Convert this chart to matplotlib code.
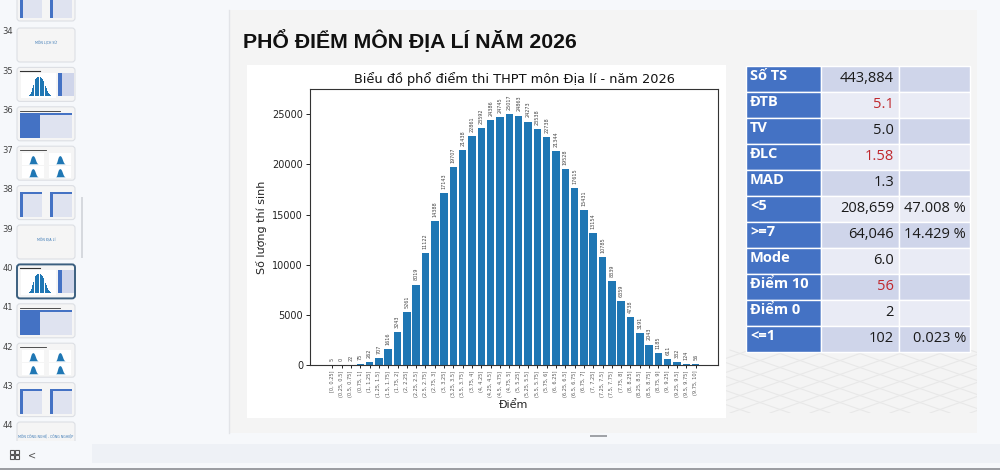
import matplotlib
matplotlib.use('Agg')
import matplotlib.pyplot as plt
from matplotlib.patches import Rectangle, FancyBboxPatch
from matplotlib import font_manager as fm
import numpy as np

# ---------------- data ----------------
bin_labels = ['[0, 0.25]', '(0.25, 0.5]', '(0.5, 0.75]', '(0.75, 1]', '(1, 1.25]',
              '(1.25, 1.5]', '(1.5, 1.75]', '(1.75, 2]', '(2, 2.25]', '(2.25, 2.5]',
              '(2.5, 2.75]', '(2.75, 3]', '(3, 3.25]', '(3.25, 3.5]', '(3.5, 3.75]',
              '(3.75, 4]', '(4, 4.25]', '(4.25, 4.5]', '(4.5, 4.75]', '(4.75, 5]',
              '(5, 5.25]', '(5.25, 5.5]', '(5.5, 5.75]', '(5.75, 6]', '(6, 6.25]',
              '(6.25, 6.5]', '(6.5, 6.75]', '(6.75, 7]', '(7, 7.25]', '(7.25, 7.5]',
              '(7.5, 7.75]', '(7.75, 8]', '(8, 8.25]', '(8.25, 8.5]', '(8.5, 8.75]',
              '(8.75, 9]', '(9, 9.25]', '(9.25, 9.5]', '(9.5, 9.75]', '(9.75, 10]']
counts = [5, 0, 22, 75, 262, 707, 1616, 3243, 5261, 8019,
          11122, 14388, 17143, 19707, 21438, 22861, 23592, 24386, 24745, 25017,
          24863, 24273, 23538, 22738, 21344, 19528, 17615, 15431, 13154, 10785,
          8339, 6359, 4738, 3191, 2043, 1185, 611, 332, 124, 56]

chart_title = 'Biểu đồ phổ điểm thi THPT môn Địa lí - năm 2026'
slide_title = 'PHỔ ĐIỂM MÔN ĐỊA LÍ NĂM 2026'

stat_labels = ['Số TS', 'ĐTB', 'TV', 'ĐLC', 'MAD', '<5', '>=7', 'Mode', 'Điểm 10', 'Điểm 0', '<=1']
stat_values = ['443,884', '5.1', '5.0', '1.58', '1.3', '208,659', '64,046', '6.0', '56', '2', '102']
stat_pcts = ['', '', '', '', '', '47.008 %', '14.429 %', '', '', '', '0.023 %']
stat_red = [False, True, False, True, False, False, False, False, True, False, False]

slide_numbers = [34, 35, 36, 37, 38, 39, 40, 41, 42, 43, 44]
slide_kinds = ['text', 'chart', 'table', 'quad', 'tables', 'text', 'chart', 'table', 'quad', 'tables', 'text']
slide_texts = {34: 'MÔN LỊCH SỬ', 39: 'MÔN ĐỊA LÍ', 44: 'MÔN CÔNG NGHỆ - CÔNG NGHIỆP'}

# pick a narrow font for the slide title if available
installed = {f.name for f in fm.fontManager.ttflist}
title_family, title_size = 'Liberation Sans', 15.3
for cand, sz in [('Liberation Sans Narrow', 17), ('DejaVu Sans Condensed', 15.5)]:
    if cand in installed:
        title_family, title_size = cand, sz
        break

# ---------------- figure ----------------
W, H = 1000, 470
fig = plt.figure(figsize=(10, 4.7), dpi=100)
fig.patch.set_facecolor('#f6f8fb')
bg = fig.add_axes([0, 0, 1, 1])
bg.set_xlim(0, W)
bg.set_ylim(H, 0)
bg.axis('off')

def rect(x0, y0, x1, y1, fc, ec='none', lw=0, z=1):
    bg.add_patch(Rectangle((x0, y0), x1 - x0, y1 - y0, facecolor=fc, edgecolor=ec, linewidth=lw, zorder=z))

def fax(x0, y0, x1, y1):
    return [x0 / W, 1 - y1 / H, (x1 - x0) / W, (y1 - y0) / H]

# slide area
rect(229, 10, 977, 433, '#f4f4f4', z=1)
bg.plot([229, 229], [10, 433], color='#e2e4e8', lw=1, zorder=2)
# decorative lattice
for k in range(-6, 8):
    x0 = 730 + k * 40
    bg.plot([x0, x0 + 180], [350, 413], color='#e8e8e8', lw=0.8, zorder=1.5)
    bg.plot([x0 + 180, x0], [350, 413], color='#e8e8e8', lw=0.8, zorder=1.5)
rect(977, 10, 1000, 440, '#f6f8fb', z=1.6)
rect(229, 413, 977, 433, '#f4f4f4', z=1.55)
rect(229, 340, 700, 433, '#f4f4f4', z=1.55)

# title
bg.text(243, 40, slide_title, fontsize=title_size, fontweight='bold', family=[title_family, 'DejaVu Sans'],
        color='#111111', va='center', ha='left', zorder=3)

# white chart box
rect(247, 65, 726, 418, 'white', z=2)

# bottom strip
rect(92, 444, 1000, 463, '#eef1f6', z=1)
rect(590, 435, 607, 437, '#a0a3a8', z=2)
# scrollbar
rect(80.5, 197, 83, 258, '#d6d9de', z=2)

# ---------------- thumbnails ----------------
def thumb(num, kind, y0):
    x0, x1, y1 = 17, 75, y0 + 34
    sel = num == 40
    bg.add_patch(FancyBboxPatch((x0, y0), x1 - x0, y1 - y0, boxstyle='round,pad=0,rounding_size=3',
                                facecolor='#f5f5f5', edgecolor='#3b5f7f' if sel else '#dcdfe4',
                                linewidth=1.4 if sel else 0.8, zorder=2))
    bg.text(8, y0 + 4, str(num), fontsize=6, color='#444444', ha='center', va='center', zorder=3)
    if kind == 'text':
        bg.text((x0 + x1) / 2, y0 + 15, slide_texts[num], fontsize=2.3, color='#3a78b5',
                ha='center', va='center', zorder=3)
    elif kind == 'chart':
        bg.plot([20, 40], [y0 + 4, y0 + 4], color='#333333', lw=0.8, zorder=3)
        rect(21, y0 + 6, 56, y0 + 31, 'white', z=2.5)
        a = fig.add_axes(fax(24, y0 + 8, 55, y0 + 29))
        a.bar(range(len(counts)), counts, width=0.85, color='#1f77b4')
        a.axis('off')
        a.set_xlim(-2, len(counts) + 1)
        rect(58, y0 + 6, 74, y0 + 29, '#cfd5ea', z=2.5)
        rect(58, y0 + 6, 62, y0 + 29, '#4472c4', z=2.6)
    elif kind == 'table':
        bg.plot([20, 60], [y0 + 4, y0 + 4], color='#333333', lw=0.6, zorder=3)
        rect(20, y0 + 6, 72, y0 + 31, '#dfe3f0', z=2.5)
        rect(20, y0 + 6, 40, y0 + 31, '#4472c4', z=2.6)
        rect(20, y0 + 6, 72, y0 + 8, '#4472c4', z=2.6)
    elif kind == 'quad':
        bg.plot([20, 46], [y0 + 4, y0 + 4], color='#333333', lw=0.6, zorder=3)
        for (ax0, ay0) in [(22, y0 + 7), (49, y0 + 7), (22, y0 + 20), (49, y0 + 20)]:
            rect(ax0, ay0, ax0 + 22, ay0 + 12, 'white', z=2.5)
            a = fig.add_axes(fax(ax0 + 5, ay0 + 2, ax0 + 17, ay0 + 11))
            a.fill_between(range(len(counts)), counts, color='#1f77b4', lw=0)
            a.axis('off')
    elif kind == 'tables':
        for tx in (20, 50):
            rect(tx, y0 + 6, tx + 22, y0 + 31, '#dfe3f0', z=2.5)
            rect(tx, y0 + 6, tx + 3, y0 + 31, '#4472c4', z=2.6)
            rect(tx, y0 + 6, tx + 22, y0 + 8, '#4472c4', z=2.6)

# partial slide 33 at top
bg.add_patch(FancyBboxPatch((17, -14), 58, 35, boxstyle='round,pad=0,rounding_size=3',
                            facecolor='#f5f5f5', edgecolor='#dcdfe4', linewidth=0.8, zorder=2))
for tx in (20, 50):
    rect(tx, 0, tx + 22, 18, '#dfe3f0', z=2.5)
    rect(tx, 0, tx + 3, 18, '#4472c4', z=2.6)
for i, (n, k) in enumerate(zip(slide_numbers, slide_kinds)):
    thumb(n, k, 28 + i * 39.4)
rect(0, 441, 92, 470, '#f6f8fb', z=2.9)
rect(0, 441, 1000, 444, '#f6f8fb', z=2.9)
bg.plot([0, 1000], [468.5, 468.5], color='#8a8d92', lw=1.2, zorder=3)
for dx in (0, 5):
    for dy in (0, 5):
        rect(10 + dx, 450 + dy, 14 + dx, 454 + dy, 'none', ec='#555555', lw=0.8, z=3)
bg.text(32, 455, '<', fontsize=7, color='#555555', ha='center', va='center', zorder=3)

# ---------------- main chart ----------------
ax = fig.add_axes(fax(310, 89, 718, 365))
x = np.arange(len(counts))
bars = ax.bar(x, counts, color='#1f77b4')
ax.set_ylim(0, max(counts) * 1.1)
ax.set_xticks(x)
ax.set_xticklabels(bin_labels, rotation=90, fontsize=3.6, color='#555555')
ax.tick_params(axis='x', length=2.5, width=0.6, pad=1.5)
ax.tick_params(axis='y', labelsize=7, length=3, width=0.7, pad=2, colors='#222222')
ax.set_yticks([0, 5000, 10000, 15000, 20000, 25000])
ax.set_title(chart_title, fontsize=9.3, pad=4, color='#111111')
ax.set_ylabel('Số lượng thí sinh', fontsize=8, labelpad=4, color='#222222')
ax.set_xlabel('Điểm', fontsize=8, labelpad=2, color='#222222')
ax.bar_label(bars, labels=[str(c) for c in counts], rotation=90, fontsize=3.5, padding=3, color='#444444')
for s in ax.spines.values():
    s.set_linewidth(0.8)
    s.set_color('#333333')

# ---------------- stats table ----------------
tx0, tx1, tx2, tx3 = 746, 821, 899, 970
ty0, ty1 = 66, 352
rh = (ty1 - ty0) / len(stat_labels)
for i, (lab, val, pct, red) in enumerate(zip(stat_labels, stat_values, stat_pcts, stat_red)):
    y0 = ty0 + i * rh
    fill = '#cfd5ea' if i % 2 == 0 else '#e9ebf5'
    rect(tx0, y0, tx1, y0 + rh, '#4472c4', ec='white', lw=1, z=2)
    rect(tx1, y0, tx2, y0 + rh, fill, ec='white', lw=1, z=2)
    rect(tx2, y0, tx3, y0 + rh, fill, ec='white', lw=1, z=2)
    bg.text(750, y0 + rh / 2 - 3, lab, fontsize=10.5, fontweight='bold', family='Open Sans',
            color='white', ha='left', va='center', zorder=3)
    bg.text(894, y0 + rh / 2, val, fontsize=10.5, family='Open Sans',
            color='#c0282d' if red else '#1a1a1a', ha='right', va='center', zorder=3)
    if pct:
        bg.text(966, y0 + rh / 2, pct, fontsize=10.5, family='Open Sans',
                color='#1a1a1a', ha='right', va='center', zorder=3)

fig.savefig('out.png', dpi=100, facecolor=fig.get_facecolor())
